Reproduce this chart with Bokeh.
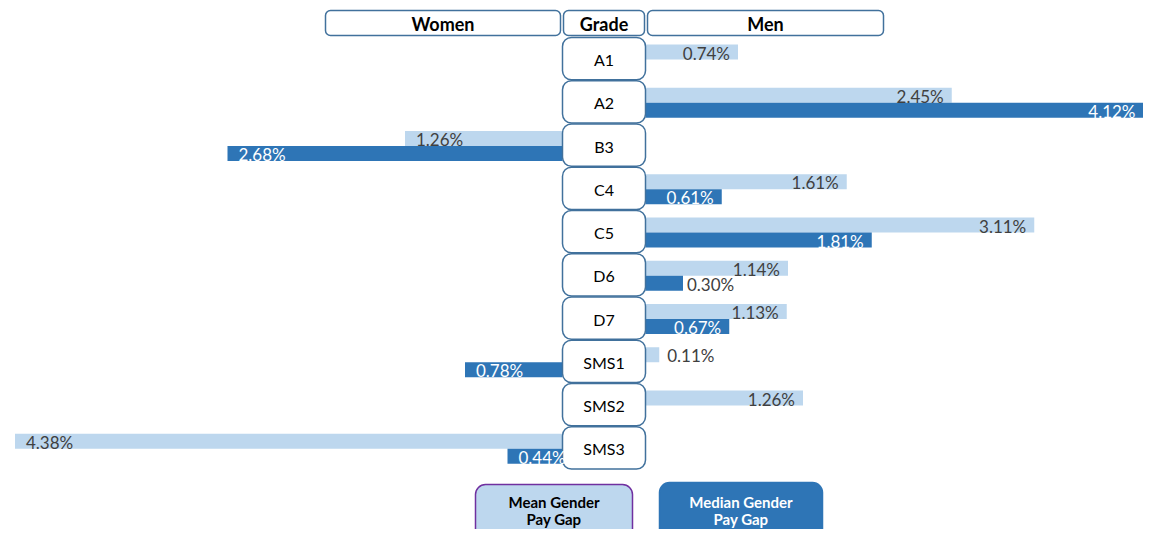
from bokeh.plotting import figure
from bokeh.models import Range1d, ColumnDataSource
from bokeh.core.properties import value
from bokeh.embed import file_html
from bokeh.resources import INLINE

# ---------------- data ----------------
grades = ["A1", "A2", "B3", "C4", "C5", "D6", "D7", "SMS1", "SMS2", "SMS3"]
men_mean = [0.74, 2.45, None, 1.61, 3.11, 1.14, 1.13, 0.11, 1.26, None]
men_median = [None, 4.12, None, 0.61, 1.81, 0.30, 0.67, None, None, None]
women_mean = [None, None, 1.26, None, None, None, None, None, None, 4.38]
women_median = [None, None, 2.68, None, None, None, None, 0.78, None, 0.44]
headers = ["Women", "Grade", "Men"]
legend_labels = ["Mean Gender\nPay Gap", "Median Gender\nPay Gap"]

# ---------------- layout helpers ----------------
W, H = 1143, 529
PX_PER_PCT = 125.0
CX = 603.5          # centre of grade column (px)
ROW0, PITCH = 59.0, 43.25


def X(px):
    return (px - CX) / PX_PER_PCT


def Y(py):
    return (py - ROW0) / PITCH


GAP = X(645)            # half width of the grade column in % units
BH = 15.0 / PITCH        # bar thickness in row units

LIGHT = "#BDD7EE"
DARK = "#2E75B6"
BORDER = "#41719C"
FONT = value("Lato")

p = figure(width=W, height=H, output_backend="svg", toolbar_location=None,
           x_range=Range1d(X(0), X(W)), y_range=Range1d(Y(H), Y(0)),
           x_axis_type=None, y_axis_type=None, min_border=0,
           background_fill_color="white", border_fill_color="white")
p.outline_line_color = None
p.grid.visible = False
XMAX = p.x_range.end


def bars(vals, side, kind):
    rows = [(i, v) for i, v in enumerate(vals) if v is not None]
    idx = [r[0] for r in rows]
    vs = [r[1] for r in rows]
    if side == "men":
        left = [GAP] * len(vs)
        right = [GAP + v for v in vs]
    else:
        right = [-GAP] * len(vs)
        left = [-GAP - v for v in vs]
    if kind == "mean":
        top = [i - BH for i in idx]
        bottom = [float(i) for i in idx]
    else:
        top = [float(i) for i in idx]
        bottom = [i + BH for i in idx]
    src = ColumnDataSource(dict(left=left, right=right, top=top, bottom=bottom))
    p.quad(left="left", right="right", top="top", bottom="bottom", source=src,
           fill_color=LIGHT if kind == "mean" else DARK, line_color=None)
    return idx, vs


series = [
    (men_mean, "men", "mean"),
    (men_median, "men", "median"),
    (women_mean, "women", "mean"),
    (women_median, "women", "median"),
]
label_data = []
for vals, side, kind in series:
    idx, vs = bars(vals, side, kind)
    label_data.append((idx, vs, side, kind))

# ---------------- grade boxes ----------------
n = len(grades)
p.quad(left=[X(562)] * n, right=[X(645)] * n,
       top=[i - 0.51 for i in range(n)], bottom=[i + 0.47 for i in range(n)],
       fill_color="white", line_color=BORDER, line_width=1.5, border_radius=9)
p.text(x=[0] * n, y=[i - 0.02 for i in range(n)], text=grades, text_font=FONT,
       text_font_size="16px", text_color="black", text_align="center",
       text_baseline="middle", y_offset=1)

# ---------------- header boxes ----------------
hl = [X(325), X(563), X(647)]
hr = [X(560), X(644), X(883)]
p.quad(left=hl, right=hr, top=[Y(10)] * 3, bottom=[Y(35)] * 3,
       fill_color="white", line_color=BORDER, line_width=1.5, border_radius=5)
p.text(x=[(a + b) / 2 for a, b in zip(hl, hr)], y=[Y(23)] * 3, text=headers,
       text_font=FONT, text_font_size="18px", text_font_style="bold",
       text_color="black", text_align="center", text_baseline="middle")

# ---------------- value labels ----------------
THRESH = 0.4
for idx, vs, side, kind in label_data:
    for i, v in zip(idx, vs):
        yy = i - BH / 2 if kind == "mean" else i + BH / 2
        txt = f"{v:.2f}%"
        inside = v >= THRESH
        if side == "men":
            xx = min(GAP + v, XMAX)
            if inside:
                align, xo = "right", -8
            else:
                align, xo = "left", 4 if kind == "median" else 8
        else:
            xx = -GAP - v
            align, xo = "left", 11
        color = "white" if (kind == "median" and inside) else "#404040"
        p.text(x=[xx], y=[yy], text=[txt], text_font=FONT, text_font_size="17px",
               text_color=color, text_align=align, text_baseline="middle",
               x_offset=xo, y_offset=1)

# ---------------- legend boxes ----------------
p.quad(left=[X(475)], right=[X(632)], top=[Y(484)], bottom=[Y(560)],
       fill_color=LIGHT, line_color="#7030A0", line_width=1.5, border_radius=10)
p.quad(left=[X(659)], right=[X(822)], top=[Y(482)], bottom=[Y(560)],
       fill_color=DARK, line_color=DARK, line_width=1.5, border_radius=10)
for cx, col, lab in [((475 + 632) / 2, "black", legend_labels[0]),
                     ((659 + 822) / 2, "white", legend_labels[1])]:
    l1, l2 = lab.split("\n")
    p.text(x=[X(cx), X(cx)], y=[Y(501), Y(518)], text=[l1, l2], text_font=FONT,
           text_font_size="15px", text_font_style="bold", text_color=col,
           text_align="center", text_baseline="middle")

open("out.html", "w").write(file_html(p, INLINE))
